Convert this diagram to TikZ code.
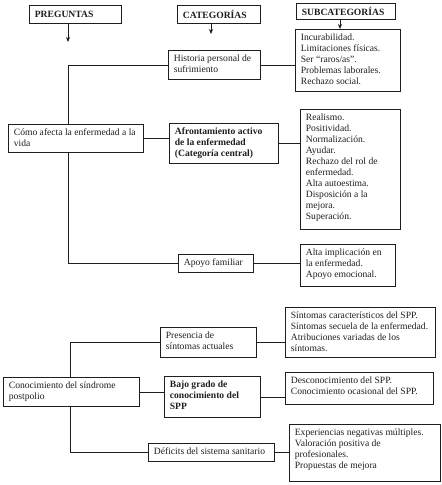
\documentclass[tikz,border=0pt]{standalone}
\usepackage{fontspec}
\setmainfont{Liberation Serif}
\usetikzlibrary{arrows.meta}
\newcommand{\bxt}[3]{\parbox[c][\dimexpr#2pt-6pt\relax][t]{\dimexpr#1pt-11pt\relax}{\raggedright\strut#3}}
\newcommand{\bxh}[3]{\parbox[c][\dimexpr#2pt-6pt\relax][c]{\dimexpr#1pt-11pt\relax}{\raggedright\textbf{#3}}}
\definecolor{ink}{HTML}{1E1E1E}
\tikzset{
  box/.style={draw=ink, line width=0.75pt, anchor=north west, inner xsep=5.5pt, inner ysep=3pt, text=ink, font=\fontsize{9.6}{11}\selectfont},
  link/.style={draw=ink, line width=0.75pt},
  arr/.style={link, -{Stealth[length=5pt,width=4pt]}}
}
\begin{document}
\begin{tikzpicture}[x=1pt,y=-1pt]
\useasboundingbox (0,0) rectangle (442,485);
% headers
\node[box] (preg) at (29,5) {\bxh{92}{18}{PREGUNTAS}};
\node[box] (cat) at (177,5) {\bxh{83}{18}{CATEGORÍAS}};
\node[box] (subh) at (296,3) {\bxh{99}{16}{SUBCATEGORÍAS}};
% first block
\node[box] (hist) at (168,50) {\bxt{92}{29}{Historia personal de\\ sufrimiento}};
\node[box] (como) at (8,124) {\bxt{135}{28}{Cómo afecta la enfermedad a la\\ vida}};
\node[box] (afr) at (169,123) {\bxt{109}{40}{\textbf{Afrontamiento activo\\ de la enfermedad\\ (Categoría central)}}};
\node[box] (apoyo) at (178,254) {\bxt{75}{18}{Apoyo familiar}};
\node[box] (s1) at (295,29) {\bxt{105}{62}{Incurabilidad.\\ Limitaciones físicas.\\ Ser “raros/as”.\\ Problemas laborales.\\ Rechazo social.}};
\node[box] (s2) at (300,109) {\bxt{100}{120}{Realismo.\\ Positividad.\\ Normalización.\\ Ayudar.\\ Rechazo del rol de\\ enfermedad.\\ Alta autoestima.\\ Disposición a la\\ mejora.\\ Superación.}};
\node[box] (s3) at (300,244) {\bxt{95}{42}{Alta implicación en\\ la enfermedad.\\ Apoyo emocional.}};
% second block
\node[box] (pres) at (160,327) {\bxt{96}{30}{Presencia de\\ síntomas actuales}};
\node[box] (con) at (3,377) {\bxt{136}{29}{Conocimiento del síndrome\\ postpolio}};
\node[box] (bajo) at (164,376) {\bxt{96}{41}{\textbf{Bajo grado de\\ conocimiento del\\ SPP}}};
\node[box] (def) at (148,443) {\bxt{126}{18}{Déficits del sistema sanitario}};
\node[box] (q1) at (285,307) {\bxt{150}{50}{Síntomas característicos del SPP.\\ Síntomas secuela de la enfermedad.\\ Atribuciones variadas de los\\ síntomas.}};
\node[box] (q2) at (285,372) {\bxt{148}{32}{Desconocimiento del SPP.\\ Conocimiento ocasional del SPP.}};
\node[box] (q3) at (289,424) {\bxt{151}{57}{Experiencias negativas múltiples.\\ Valoración positiva de\\ profesionales.\\ Propuestas de mejora}};
% coordinates
\coordinate (pa) at (68,42);
\coordinate (ca) at (211,34);
\coordinate (sa) at (340,0);
\coordinate (t1) at (68,0);
\coordinate (t2) at (70,0);
% header arrows
\draw[arr] (preg.south -| pa) -- (pa);
\draw[arr] (cat.south -| ca) -- (ca);
\draw[arr] (subh.south -| sa) -- (s1.north -| sa);
% first block connectors
\draw[link] (hist.west) -| (como.north -| t1);
\draw[link] (como.south -| t1) |- (apoyo.west);
\draw[link] (como.east) -- (como.east -| afr.west);
\draw[link] (hist.east) -- (hist.east -| s1.west);
\draw[link] (afr.east) -- (afr.east -| s2.west);
\draw[link] (apoyo.east) -- (apoyo.east -| s3.west);
% second block connectors
\draw[link] (pres.west) -| (con.north -| t2);
\draw[link] (con.south -| t2) |- (def.west);
\draw[link] (con.east) -- (con.east -| bajo.west);
\draw[link] (pres.east) -- (pres.east -| q1.west);
\draw[link] (bajo.east) -- (bajo.east -| q2.west);
\draw[link] (def.east) -- (def.east -| q3.west);
\end{tikzpicture}
\end{document}
